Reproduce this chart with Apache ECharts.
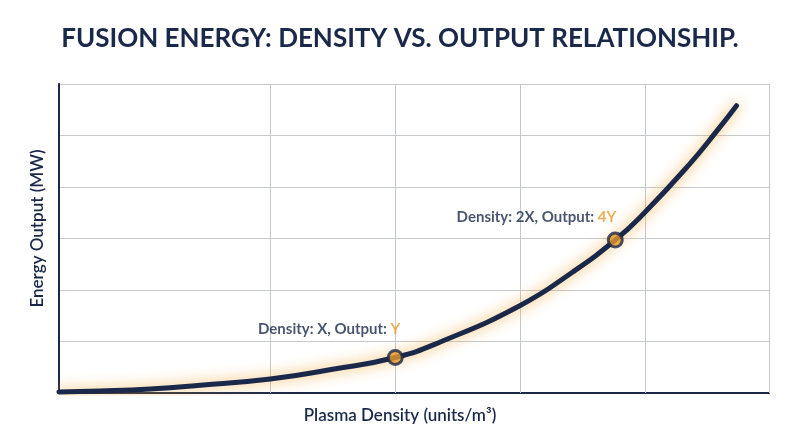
<!DOCTYPE html>
<html>
<head>
<meta charset="utf-8">
<script src="https://cdn.jsdelivr.net/npm/echarts@6/dist/echarts.min.js"></script>
<style>html,body{margin:0;padding:0;background:#fff}#c{width:800px;height:447px}</style>
</head>
<body>
<div id="c"></div>
<script>
var titleText = 'FUSION ENERGY: DENSITY VS. OUTPUT RELATIONSHIP.';
var xName = 'Plasma Density (units/m³)';
var yName = 'Energy Output (MW)';
// curve samples (density units, output units)
var curveX = [0, 0.33, 0.73, 1.13, 1.69, 2.19, 2.69, 3.05, 3.69, 4.11, 4.45, 4.68, 5.05, 5.26, 5.42];
var curveY = [0.02, 0.04, 0.08, 0.15, 0.27, 0.46, 0.69, 0.99, 1.70, 2.35, 2.97, 3.49, 4.46, 5.08, 5.58];
// highlighted points
var pointX = [2.69, 4.45];
var pointY = [0.69, 2.97];
var pointDensity = ['X', '2X'];
var pointOutput = ['Y', '4Y'];
// vertical grid lines
var vGrid = [1.69, 2.69, 3.69, 4.69, 5.68];
var xMax = 5.68, yMax = 6, yInterval = 1;

var navy = '#1a2849', orange = '#e79a2a', gridC = '#c5c8cd';
var font = 'Lato';

var curveData = curveX.map(function (x, i) { return [x, curveY[i]]; });
var labelCfg = [
  { offset: [5, 0], distance: 12 },
  { offset: [1, 0], distance: 7 }
];
var pts = pointX.map(function (x, i) {
  return {
    value: [x, pointY[i]],
    label: {
      show: true, position: 'top', align: 'right',
      distance: labelCfg[i].distance, offset: labelCfg[i].offset,
      formatter: '{a|Density: ' + pointDensity[i] + ', Output: }{b|' + pointOutput[i] + '}',
      rich: {
        a: { color: navy, fontSize: 15, fontFamily: font, fontWeight: 'bold' },
        b: { color: orange, fontSize: 15, fontFamily: font, fontWeight: 'bold' }
      }
    }
  };
});

var chart = echarts.init(document.getElementById('c'), null, { renderer: 'canvas' });
chart.setOption({
  backgroundColor: '#fff',
  animation: false,
  title: {
    text: titleText, left: 'center', top: 26, padding: 0,
    textStyle: { color: navy, fontSize: 26, fontWeight: 'bold', fontFamily: font }
  },
  grid: { left: 59, right: 31, top: 84, bottom: 54 },
  xAxis: {
    type: 'value', min: 0, max: xMax,
    name: xName, nameLocation: 'middle', nameGap: 14,
    nameTextStyle: { color: navy, fontSize: 17, fontFamily: font, fontWeight: 600, padding: [0, 28, 0, 0] },
    axisLine: { show: true, lineStyle: { color: navy, width: 2 } },
    axisTick: { show: false }, axisLabel: { show: false }, splitLine: { show: false }
  },
  yAxis: {
    type: 'value', min: 0, max: yMax, interval: yInterval,
    name: yName, nameLocation: 'middle', nameGap: 13,
    nameTextStyle: { color: navy, fontSize: 17, fontFamily: font, fontWeight: 600, padding: [0, 0, 0, 20] },
    axisLine: { show: true, lineStyle: { color: navy, width: 2 } },
    axisTick: { show: false }, axisLabel: { show: false },
    splitLine: { show: true, lineStyle: { color: gridC, width: 1 } }
  },
  series: [
    {
      type: 'line', data: curveData, smooth: 0.5, showSymbol: false, z: 3,
      lineStyle: { color: navy, width: 5, shadowColor: 'rgba(242,160,40,0.85)', shadowBlur: 14, cap: 'round' },
      markLine: {
        silent: true, symbol: 'none', label: { show: false },
        lineStyle: { color: gridC, width: 1, type: 'solid' },
        data: vGrid.map(function (v) { return { xAxis: v }; }),
        z: 1
      }
    },
    {
      type: 'scatter', data: pts, symbolSize: 14, z: 5,
      itemStyle: { color: orange, borderColor: navy, borderWidth: 3 }
    }
  ]
});
</script>
</body>
</html>
